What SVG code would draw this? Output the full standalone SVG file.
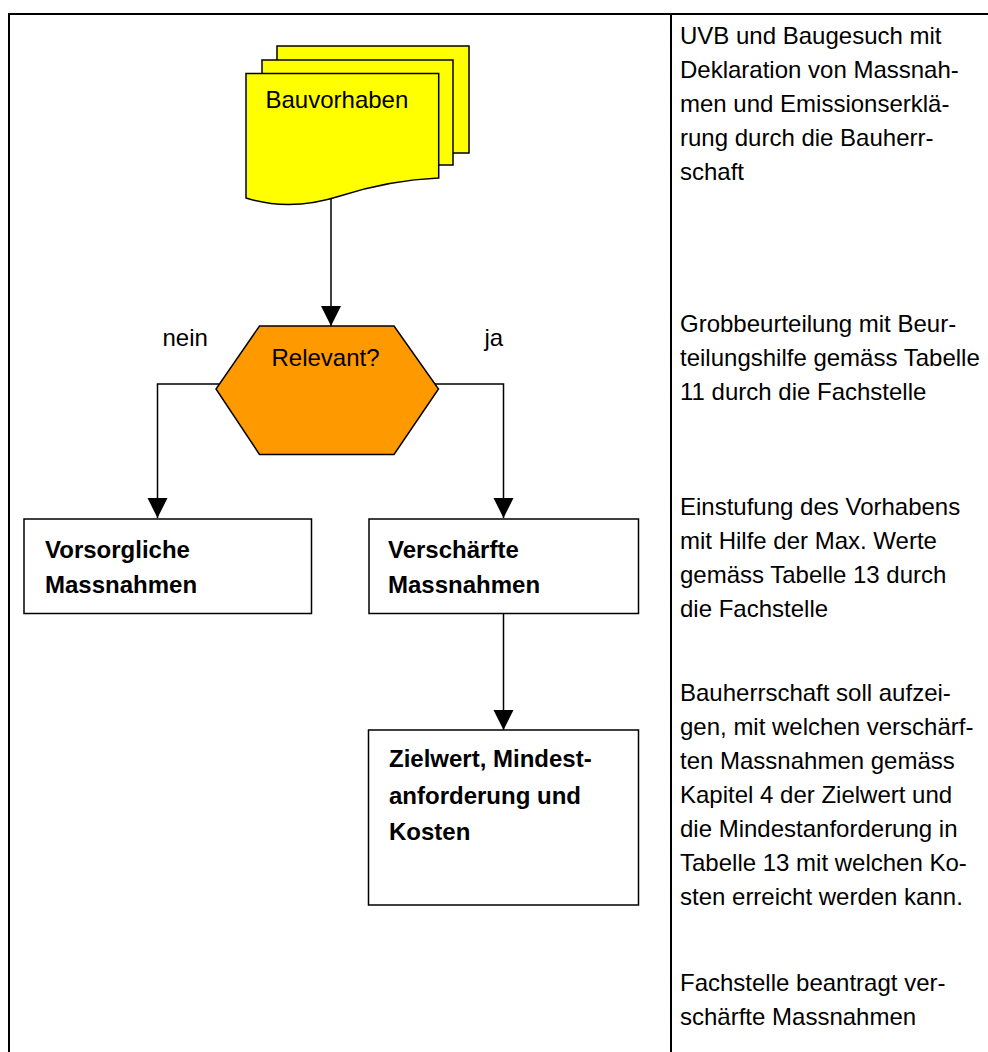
<svg xmlns="http://www.w3.org/2000/svg" width="988" height="1052" viewBox="0 0 988 1052">
<style>
text{font-family:"Liberation Sans",Arial,sans-serif;font-size:24px;fill:#000}
.b{font-weight:bold}
.box{fill:#fff;stroke:#000;stroke-width:1.5}
.doc{fill:#FFFF00;stroke:#000;stroke-width:1.5}
.ln{fill:none;stroke:#000;stroke-width:1.5}
.frame{fill:none;stroke:#000;stroke-width:2}
</style>
<defs>
<marker id="ah" markerWidth="20" markerHeight="22" refX="20" refY="11" orient="auto" markerUnits="userSpaceOnUse">
<path d="M0,1 L20,11 L0,21 Z" fill="#000"/>
</marker>
</defs>
<rect width="988" height="1052" fill="#fff"/>
<g id="frame">
<path class="frame" d="M9,1052 V14 H988"/>
<path class="frame" d="M671,14 V1052"/>
</g>
<g id="connectors">
<path class="ln" d="M331,197 V326" marker-end="url(#ah)"/>
<path class="ln" d="M219,384 H157.5 V518" marker-end="url(#ah)"/>
<path class="ln" d="M435,384 H503.5 V518" marker-end="url(#ah)"/>
<path class="ln" d="M503.5,614 V730" marker-end="url(#ah)"/>
</g>
<g id="bauvorhaben">
<rect class="doc" x="277" y="46" width="192" height="107"/>
<rect class="doc" x="262" y="60" width="191" height="105"/>
<path class="doc" d="M246,73.5 H438.7 V178 Q390,180 340,196 T246,198 Z"/>
<text x="265.5" y="108">Bauvorhaben</text>
</g>
<g id="relevant">
<polygon points="259.5,326 394,326 438.5,389 394,454.5 259.5,454.5 216,389" fill="#FF9900" stroke="#000" stroke-width="1.5"/>
<text x="271.5" y="366">Relevant?</text>
</g>
<g id="labels">
<text x="162.5" y="346">nein</text>
<text x="484.5" y="346">ja</text>
</g>
<g id="vorsorgliche">
<rect class="box" x="24" y="519" width="287.5" height="94.5"/>
<text class="b" x="45" y="558">Vorsorgliche</text>
<text class="b" x="45" y="593">Massnahmen</text>
</g>
<g id="verschaerfte">
<rect class="box" x="369" y="519" width="269.5" height="94.5"/>
<text class="b" x="388" y="558">Verschärfte</text>
<text class="b" x="388" y="593">Massnahmen</text>
</g>
<g id="zielwert">
<rect class="box" x="368.5" y="730" width="270" height="175"/>
<text class="b" x="389" y="767">Zielwert, Mindest-</text>
<text class="b" x="389" y="803.5">anforderung und</text>
<text class="b" x="389" y="840">Kosten</text>
</g>
<g id="notes">
<text x="680" y="44">UVB und Baugesuch mit</text>
<text x="680" y="78">Deklaration von Massnah-</text>
<text x="680" y="112">men und Emissionserklä-</text>
<text x="680" y="146">rung durch die Bauherr-</text>
<text x="680" y="180">schaft</text>
<text x="680" y="332">Grobbeurteilung mit Beur-</text>
<text x="680" y="366">teilungshilfe gemäss Tabelle</text>
<text x="680" y="400">11 durch die Fachstelle</text>
<text x="680" y="515">Einstufung des Vorhabens</text>
<text x="680" y="549">mit Hilfe der Max. Werte</text>
<text x="680" y="583">gemäss Tabelle 13 durch</text>
<text x="680" y="617">die Fachstelle</text>
<text x="680" y="701">Bauherrschaft soll aufzei-</text>
<text x="680" y="735">gen, mit welchen verschärf-</text>
<text x="680" y="769">ten Massnahmen gemäss</text>
<text x="680" y="803">Kapitel 4 der Zielwert und</text>
<text x="680" y="837">die Mindestanforderung in</text>
<text x="680" y="871">Tabelle 13 mit welchen Ko-</text>
<text x="680" y="905">sten erreicht werden kann.</text>
<text x="680" y="991">Fachstelle beantragt ver-</text>
<text x="680" y="1025">schärfte Massnahmen</text>
</g>
</svg>
